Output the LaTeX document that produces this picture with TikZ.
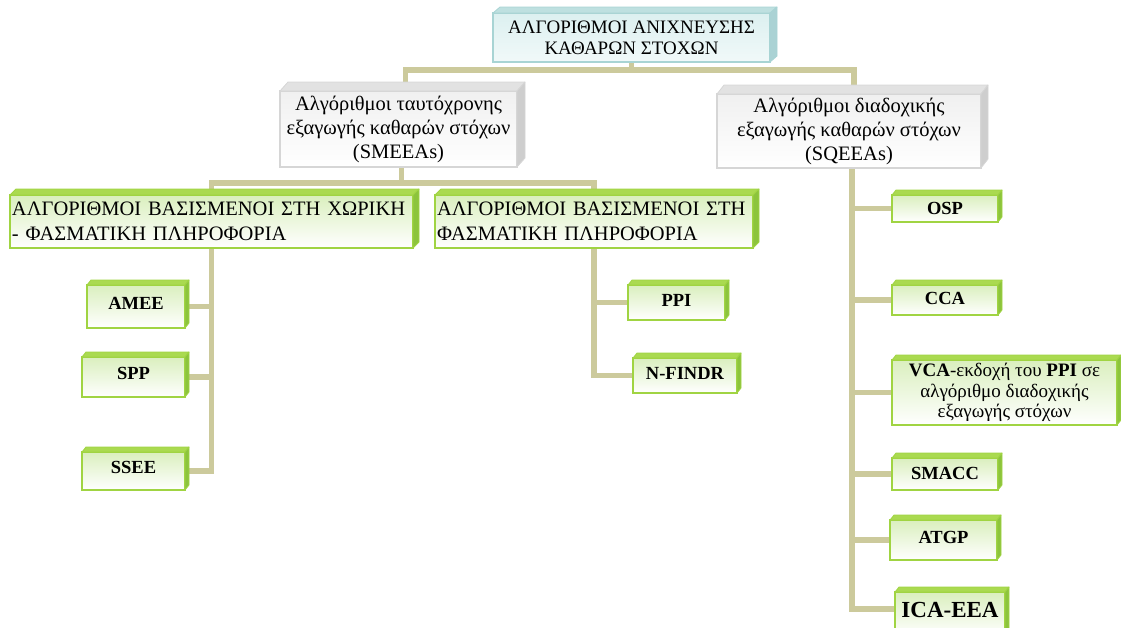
\documentclass[tikz,border=0pt]{standalone}
\usepackage{fontspec}
\setmainfont{Liberation Serif}
\pgfdeclarelayer{background}
\pgfsetlayers{background,main}

\definecolor{linkc}{RGB}{204,202,156}
\definecolor{grnedge}{RGB}{160,212,66}
\definecolor{grntop}{RGB}{170,218,80}
\definecolor{grnside}{RGB}{140,196,60}
\definecolor{grnfront}{RGB}{218,239,190}
\definecolor{tealedge}{RGB}{168,212,212}
\definecolor{tealtop}{RGB}{190,224,224}
\definecolor{tealside}{RGB}{170,210,212}
\definecolor{tealfront}{RGB}{220,240,240}
\definecolor{grayedge}{RGB}{214,214,214}
\definecolor{graytop}{RGB}{226,226,226}
\definecolor{grayside}{RGB}{206,206,206}
\definecolor{grayfront}{RGB}{240,240,240}

% front face of a box: name, style, x1, y1, x2, y2, text
\newcommand\cubenode[7]{%
  \node[#2, minimum width=#5pt-#3pt, minimum height=#6pt-#4pt]
    (#1) at ({(#3+#5)/2},{(#4+#6)/2}) {#7};}
% top and right faces of a box: name, top colour, side colour, edge colour, dx, dy
\newcommand\cubefaces[6]{%
  \filldraw[fill=#2, draw=#4, line width=0.8pt, line join=round]
    (#1.north west) -- ([shift={(#5,-#6)}]#1.north west)
    -- ([shift={(#5,-#6)}]#1.north east) -- (#1.north east) -- cycle;
  \filldraw[fill=#3, draw=#4, line width=0.8pt, line join=round]
    (#1.north east) -- ([shift={(#5,-#6)}]#1.north east)
    -- ([shift={(#5,-#6)}]#1.south east) -- (#1.south east) -- cycle;}

\tikzset{
  cube/.style={line width=1.4pt, inner sep=2pt, outer sep=0pt, align=center},
  topbox/.style={cube, draw=tealedge, top color=tealfront, bottom color=tealfront!40!white,
    font=\fontsize{19}{21}\selectfont},
  graybox/.style={cube, draw=grayedge, top color=grayfront, bottom color=white,
    font=\fontsize{20.5}{24}\selectfont},
  groupbox/.style={cube, draw=grnedge, top color=grnfront, bottom color=white,
    font=\fontsize{20.5}{25}\selectfont, align=left, text width=#1},
  leafbox/.style={cube, draw=grnedge, top color=grnfront, bottom color=white,
    font=\fontsize{18.5}{20}\selectfont\bfseries},
  notebox/.style={leafbox, font=\fontsize{19}{20.5}\selectfont},
  link/.style={draw=linkc, line width=5.5pt}
}

\begin{document}
\begin{tikzpicture}[x=1pt,y=-1pt]
\useasboundingbox (0,0) rectangle (1121,627);
\clip (0,0) rectangle (1121,627);

% root
\cubenode{top}{topbox}{493}{13}{770}{62}{ΑΛΓΟΡΙΘΜΟΙ ΑΝΙΧΝΕΥΣΗΣ\\ΚΑΘΑΡΩΝ ΣΤΟΧΩΝ}
\cubefaces{top}{tealtop}{tealside}{tealedge}{7}{6}

% two families
\cubenode{smeea}{graybox}{280}{91}{517}{167}{Αλγόριθμοι ταυτόχρονης\\εξαγωγής καθαρών στόχων\\(SMEEAs)}
\cubefaces{smeea}{graytop}{grayside}{grayedge}{8}{9}
\cubenode{sqeea}{graybox}{717}{94}{981}{168}{Αλγόριθμοι διαδοχικής\\εξαγωγής καθαρών στόχων\\(SQEEAs)}
\cubefaces{sqeea}{graytop}{grayside}{grayedge}{7}{9}

% groups of simultaneous algorithms
\cubenode{g1}{groupbox=399pt}{10}{195}{413}{248}{ΑΛΓΟΡΙΘΜΟΙ ΒΑΣΙΣΜΕΝΟΙ ΣΤΗ ΧΩΡΙΚΗ\\- ΦΑΣΜΑΤΙΚΗ ΠΛΗΡΟΦΟΡΙΑ}
\cubefaces{g1}{grntop}{grnside}{grnedge}{6}{6}
\cubenode{g2}{groupbox=314pt}{435}{195}{753}{248}{ΑΛΓΟΡΙΘΜΟΙ ΒΑΣΙΣΜΕΝΟΙ ΣΤΗ\\ΦΑΣΜΑΤΙΚΗ ΠΛΗΡΟΦΟΡΙΑ}
\cubefaces{g2}{grntop}{grnside}{grnedge}{6}{6}

% leaves
\cubenode{amee}{leafbox}{87}{285}{185}{328}{\raisebox{7pt}{AMEE}}
\cubenode{spp}{leafbox}{82}{357}{185}{397}{\raisebox{7pt}{SPP}}
\cubenode{ssee}{leafbox}{82}{452}{185}{490}{\raisebox{8pt}{SSEE}}
\cubenode{ppi}{leafbox}{628}{285}{725}{320}{\raisebox{4pt}{PPI}}
\cubenode{nfindr}{leafbox}{633}{358}{737}{393}{\raisebox{5pt}{N-FINDR}}
\cubenode{osp}{leafbox}{892}{195}{998}{222}{\raisebox{1pt}{OSP}}
\cubenode{cca}{leafbox}{892}{285}{998}{315}{\raisebox{3pt}{CCA}}
\cubenode{vca}{notebox}{892}{360}{1117}{425}{\textbf{VCA}-εκδοχή του \textbf{PPI} σε\\αλγόριθμο διαδοχικής\\εξαγωγής στόχων}
\cubenode{smacc}{leafbox}{892}{458}{998}{490}{\raisebox{2pt}{SMACC}}
\cubenode{atgp}{leafbox}{890}{520}{997}{560}{\raisebox{5pt}{ATGP}}
\cubenode{icaeea}{leafbox}{895}{592}{1005}{636}{\fontsize{23}{26}\selectfont\raisebox{8pt}{ICA-EEA}}
\foreach \n in {amee,spp,ssee,ppi,nfindr,osp,cca,vca,smacc,atgp,icaeea}
  {\cubefaces{\n}{grntop}{grnside}{grnedge}{4}{5}}

% connectors
\begin{pgfonlayer}{background}
  \draw[link] (top.south) -- ++(0,8) -| ([xshift=7pt]smeea.north);
  \draw[link] (top.south) -- ++(0,8) -| ([xshift=5pt]sqeea.north);
  \draw[link] ([xshift=3pt]smeea.south) -- ++(0,16) -| (g1.north);
  \draw[link] ([xshift=3pt]smeea.south) -- ++(0,16) -| (g2.north);
  \foreach \n in {amee,spp,ssee} \draw[link] (g1.south) |- (\n.east);
  \foreach \n in {ppi,nfindr} \draw[link] (g2.south) |- (\n.west);
  \foreach \n in {osp,cca,vca,smacc,atgp} \draw[link] ([xshift=3pt]sqeea.south) |- (\n.west);
  \draw[link] ([xshift=3pt]sqeea.south) |- ([yshift=5pt]icaeea.west);
\end{pgfonlayer}
\end{tikzpicture}
\end{document}
